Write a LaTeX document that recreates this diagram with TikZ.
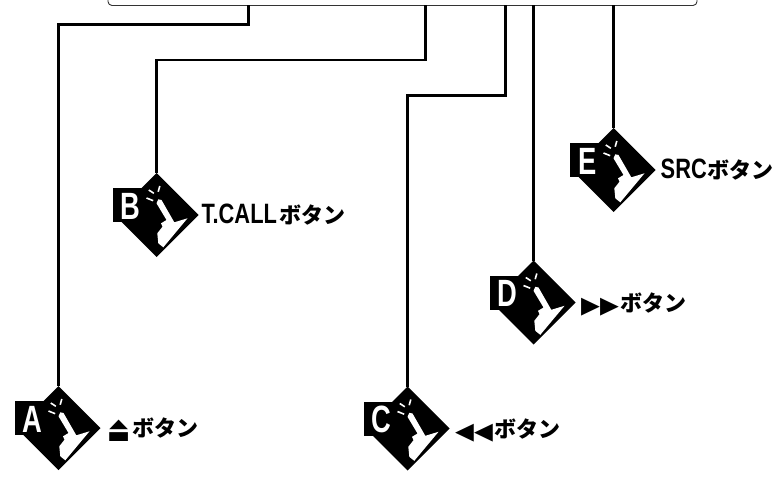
\documentclass[tikz,border=0pt]{standalone}
\usepackage{fontspec}
\setmainfont[FakeStretch=0.78]{Liberation Sans}
\newfontfamily\cjk{Noto Sans CJK JP}
\newfontfamily\glyphfont[FakeStretch=0.68]{DejaVu Sans}
\newfontfamily\letterfont[FakeStretch=0.72]{Liberation Sans}
\usetikzlibrary{positioning,shapes.geometric}
\newcommand{\kana}{{\fontsize{22}{22}\selectfont\cjk\bfseries ボタン}}
\newcommand{\btnglyph}[1]{\raisebox{-5pt}{\glyphfont\fontsize{36}{36}\selectfont #1}}
\tikzset{
  leader/.style={line width=2.5pt, line join=miter},
  panel/.style={line width=0.9pt, black!80, rounded corners=4pt},
  btnbody/.style={diamond, fill=black, inner sep=0, outer sep=0,
    minimum width=84pt, minimum height=84pt},
  btnletter/.style={white, inner sep=0, font=\letterfont\fontsize{38}{38}\selectfont\bfseries},
  btnlabel/.style={inner sep=0, font=\fontsize{28}{28}\selectfont\bfseries},
  spark/.style={white, line width=1.6pt}
}
\begin{document}
\begin{tikzpicture}[x=1pt, y=-1pt]
  \useasboundingbox (0,0) rectangle (778,476);
  \draw[panel] (108,0) -- (108,5.5) -- (697,5.5) -- (697,0);
  \foreach \nm/\cx/\cy/\px/\ky in {A/58.5/428/248.5/24.5, B/156.5/215/425.5/60,
    C/407.5/428.5/505.5/95.5, D/533.5/302.5/533.5/60, E/613.5/170/613.5/60}{
    \coordinate (panel\nm) at (\px,5.5);
    \coordinate (knee\nm) at (\cx,\ky);
    \node[btnbody] (dia\nm) at (\cx,\cy) {};
    \draw[leader] (panel\nm) |- (knee\nm) -- (dia\nm.north);
    \begin{scope}[shift={(\cx,\cy)}]
      \fill (-44,-27) rectangle (-15,7);
      % hand with pointing finger
      \fill[white] (0,-11.7) -- (1.8,-15.7) -- (5,-15) -- (17.8,7.3)
        -- (31,3.3) -- (6.8,32.3) -- (1.8,28.3) -- (0.8,18.3) -- (6,11.7)
        -- (4.5,8.3) -- (10,5) -- cycle;
      \draw[spark] (-10,-17) -- (-3.3,-14.3);
      \draw[spark] (-7.7,-25) -- (-2.7,-21.7);
      \draw[spark] (3.3,-29) -- (1.7,-23.3);
      \node[btnletter] (let\nm) at (-26,-9) {\nm};
    \end{scope}
  }
  \node[btnlabel, right=7pt of diaA, yshift=-2pt] (lblA) {\btnglyph{⏏}\hspace{2pt}\kana};
  \node[btnlabel, right=3pt of diaB] (lblB) {T.CALL\hspace{3pt}\kana};
  \node[btnlabel, right=6pt of diaC, yshift=-2pt] (lblC) {\btnglyph{◄◄}\hspace{1pt}\kana};
  \node[btnlabel, right=6pt of diaD, yshift=-2pt] (lblD) {\btnglyph{►►}\hspace{1pt}\kana};
  \node[btnlabel, right=5pt of diaE] (lblE) {SRC\hspace{1pt}\kana};
\end{tikzpicture}
\end{document}
